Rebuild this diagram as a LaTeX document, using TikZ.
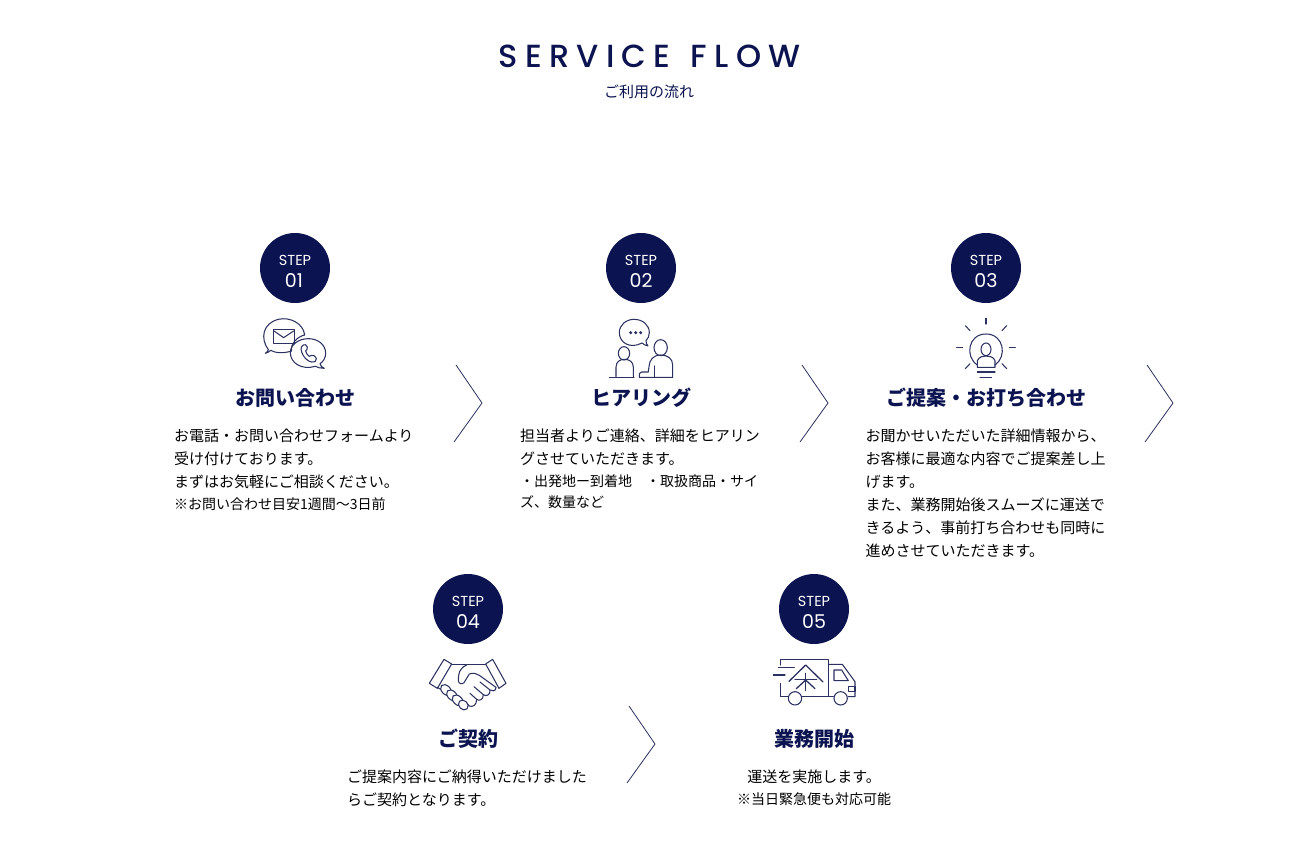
\documentclass[tikz,border=0pt]{standalone}
\usepackage{fontspec}
\setmainfont{Noto Sans CJK JP}
\newfontfamily\latinfont{Poppins}
\newfontfamily\titlefont[LetterSpace=22.5]{Poppins Medium}
\definecolor{navy}{HTML}{0B1350}
\definecolor{inkline}{HTML}{2B3160}
\usetikzlibrary{positioning}

\begin{document}
\begin{tikzpicture}[x=1pt,y=-1pt]
\tikzstyle{stepdot}=[circle,fill=navy,inner sep=0pt,minimum size=70pt]
\tikzstyle{steptext}=[text=white,inner sep=0pt,font=\latinfont\fontsize{14.5}{15}\selectfont]
\tikzstyle{stepnum}=[text=white,inner sep=0pt,font=\latinfont\fontsize{19}{20}\selectfont]
\tikzstyle{heading}=[text=navy,inner sep=0pt,font=\bfseries\fontsize{20}{24}\selectfont]
\tikzstyle{bodytext}=[text=black,inner sep=0pt,anchor=north west,align=left,font=\fontsize{15}{23}\selectfont]
\tikzstyle{chevron}=[draw=inkline,line width=.8pt,line join=miter]
\tikzstyle{icon}=[draw=inkline,line width=1.05pt,line join=round,line cap=round]
\useasboundingbox (0,0) rectangle (1311,851);

%title
\node[text=navy,inner sep=0pt,font=\titlefont\fontsize{32}{32}\selectfont] (title) at (649.5,56) {SERVICE{\hspace{5pt}} FLOW};
\node[text=navy,inner sep=0pt,font=\fontsize{15}{18}\selectfont] (subtitle) at (649,92) {ご利用の流れ};

%step circles
\node[stepdot] (step1) at (295,268) {};
\node[stepdot] (step2) at (641,268) {};
\node[stepdot] (step3) at (986,268) {};
\node[stepdot] (step4) at (468,609) {};
\node[stepdot] (step5) at (814,609) {};
\node[steptext] (steplabel1) at (295,260) {STEP};
\node[steptext] (steplabel2) at (641,260) {STEP};
\node[steptext] (steplabel3) at (986,260) {STEP};
\node[steptext] (steplabel4) at (468,601) {STEP};
\node[steptext] (steplabel5) at (814,601) {STEP};
\node[stepnum] (stepnum1) at (294,281) {01};
\node[stepnum] (stepnum2) at (641,281) {02};
\node[stepnum] (stepnum3) at (986,281) {03};
\node[stepnum] (stepnum4) at (468,622) {04};
\node[stepnum] (stepnum5) at (814,622) {05};

%headings
\node[heading] (head1) at (295,398) {お問い合わせ};
\node[heading] (head2) at (641,398) {ヒアリング};
\node[heading] (head3) at (986,398) {ご提案・お打ち合わせ};
\node[heading] (head4) at (468,739) {ご契約};
\node[heading] (head5) at (814,739) {業務開始};

%body text
\node[bodytext] (body1) at (174,429) {お電話・お問い合わせフォームより\\受け付けております。\\まずはお気軽にご相談ください。\\[-1pt]{\fontsize{14}{21}\selectfont ※お問い合わせ目安1週間〜3日前}};
\node[bodytext] (body2) at (520,429) {担当者よりご連絡、詳細をヒアリン\\グさせていただきます。\\[-1pt]{\fontsize{14}{21}\selectfont ・出発地ー到着地　・取扱商品・サイ}\\[-2pt]{\fontsize{14}{21}\selectfont ズ、数量など}};
\node[bodytext] (body3) at (865.5,429) {お聞かせいただいた詳細情報から、\\お客様に最適な内容でご提案差し上\\げます。\\また、業務開始後スムーズに運送で\\きるよう、事前打ち合わせも同時に\\進めさせていただきます。};
\node[bodytext] (body4) at (347,770) {ご提案内容にご納得いただけました\\らご契約となります。};
\node[bodytext,anchor=north,align=center] (body5) at (814,770) {運送を実施します。\\[-1pt]{\fontsize{14}{21}\selectfont ※当日緊急便も対応可能}};

%chevrons between the steps
\coordinate (c1a) at (456,365); \coordinate (c1b) at (482,403); \coordinate (c1c) at (454,442);
\coordinate (c2a) at (802,365); \coordinate (c2b) at (828,403); \coordinate (c2c) at (800,442);
\coordinate (c3a) at (1147,365); \coordinate (c3b) at (1173,403); \coordinate (c3c) at (1145,442);
\coordinate (c4a) at (629,706); \coordinate (c4b) at (655,744); \coordinate (c4c) at (627,783);
\draw[chevron] (c1a) -- (c1b) -- (c1c);
\draw[chevron] (c2a) -- (c2b) -- (c2c);
\draw[chevron] (c3a) -- (c3b) -- (c3c);
\draw[chevron] (c4a) -- (c4b) -- (c4c);

%icon 1, mail and phone
\begin{scope}[shift={(240,225)},x=.3333pt,y=-.3333pt]
\draw[icon] (85,374) .. controls (60,340) and (68,295) .. (115,283) .. controls (150,275) and (190,295) .. (194,330) .. controls (170,335) and (150,360) .. (155,378) .. controls (130,386) and (105,384) .. (92,376) .. controls (88,380) and (82,384) .. (76,385) .. controls (81,382) and (84,378) .. (85,374);
\draw[icon] (100,314) rectangle (163,355);
\draw[icon] (102,318) -- (131,338) -- (161,318);
\draw[icon] (151,383) .. controls (151,360) and (175,341) .. (205,341) .. controls (235,341) and (257,360) .. (257,385) .. controls (257,398) and (250,410) .. (240,416) .. controls (241,422) and (246,428) .. (253,430) .. controls (243,431) and (233,427) .. (226,424) .. controls (185,436) and (151,414) .. (151,383);
\draw[icon] (190,360) .. controls (180,365) and (182,378) .. (190,392) .. controls (198,405) and (212,415) .. (225,410) .. controls (232,405) and (230,398) .. (222,392) .. controls (215,388) and (212,394) .. (208,394) .. controls (203,392) and (198,384) .. (197,378) .. controls (199,374) and (204,372) .. (202,366) .. controls (199,358) and (195,358) .. (190,360);
\end{scope}

%icon 2, two people talking
\begin{scope}[shift={(590,310)},x=.3333pt,y=-.3333pt]
\draw[icon] (88,68) .. controls (88,45) and (108,28) .. (132,28) .. controls (158,28) and (178,45) .. (178,68) .. controls (178,78) and (174,86) .. (168,92) .. controls (168,98) and (170,104) .. (174,108) .. controls (166,107) and (160,102) .. (156,99) .. controls (120,118) and (88,98) .. (88,68);
\fill[inkline] (122,68) circle (5);
\fill[inkline] (137,68) circle (5);
\fill[inkline] (152,68) circle (5);
\draw[icon] (102,130) ellipse (17 and 20);
\draw[icon] (78,200) -- (78,172) .. controls (78,155) and (90,148) .. (103,148) .. controls (118,148) and (130,155) .. (130,172) -- (130,200);
\draw[icon] (58,202) -- (132,202);
\draw[icon] (212,113) ellipse (20 and 24);
\draw[icon] (248,200) -- (248,165) .. controls (248,145) and (232,135) .. (212,135) .. controls (190,135) and (178,150) .. (177,170) -- (175,186) -- (155,186) .. controls (148,186) and (148,192) .. (148,202) -- (248,202);
\draw[icon] (193,168) -- (193,200);
\end{scope}

%icon 3, bulb with person
\begin{scope}[shift={(940,310)},x=.3333pt,y=-.3333pt]
\draw[icon] (112,165) .. controls (74,140) and (84,72) .. (138,72) .. controls (192,72) and (202,140) .. (165,165);
\draw[icon] (138,118) ellipse (15 and 19);
\draw[icon] (112,172) -- (112,152) .. controls (118,140) and (128,138) .. (138,138) .. controls (148,138) and (160,140) .. (165,152) -- (165,172) -- cycle;
\draw[icon] (112,186) -- (165,186);
\draw[icon] (120,203) -- (155,203);
\draw[icon] (138,25) -- (138,42);
\draw[icon] (76,47) -- (90,62);
\draw[icon] (200,47) -- (186,62);
\draw[icon] (50,113) -- (68,113);
\draw[icon] (208,113) -- (226,113);
\draw[icon] (76,176) -- (90,161);
\draw[icon] (200,176) -- (186,161);
\end{scope}

%icon 4, handshake
\begin{scope}[shift={(420,650)},x=.3333pt,y=-.3333pt]
\draw[icon] (72,28) -- (95,42) -- (52,115) -- (28,100) -- cycle;
\draw[icon] (218,28) -- (197,42) -- (237,115) -- (258,100) -- cycle;
\draw[icon] (95,43) -- (197,43);
\draw[icon] (140,45) .. controls (118,55) and (115,70) .. (115,92) .. controls (116,102) and (126,104) .. (132,98) -- (148,72) .. controls (160,68) and (170,70) .. (178,76) -- (228,112);
\draw[icon] (228,112) .. controls (228,125) and (216,124) .. (210,120) -- (180,96);
\draw[icon] (210,120) .. controls (212,136) and (198,140) .. (190,134) -- (162,110);
\draw[icon] (190,134) .. controls (190,150) and (178,154) .. (170,148) -- (150,130);
\draw[icon] (170,148) .. controls (170,166) and (158,172) .. (148,168) -- (140,160);
\draw[icon] (52,112) -- (62,118);
\draw[icon,fill=white,rotate around={-45:(78,120)}] (78,120) ellipse (19 and 13);
\draw[icon,fill=white,rotate around={-45:(96,136)}] (96,136) ellipse (19 and 13);
\draw[icon,fill=white,rotate around={-45:(113,151)}] (113,151) ellipse (19 and 13);
\draw[icon,fill=white,rotate around={-45:(130,165)}] (130,165) ellipse (16 and 13);
\end{scope}

%icon 5, truck
\begin{scope}[shift={(765,650)},x=.3333pt,y=-.3333pt]
\draw[icon] (47,45) -- (47,28) -- (190,28) -- (190,140);
\draw[icon] (47,100) -- (47,140) -- (68,140);
\draw[icon] (40,52) -- (88,52);
\draw[icon] (25,75) -- (60,75);
\draw[icon] (110,140) -- (205,140);
\draw[icon] (90,145) circle (20);
\draw[icon] (227,145) circle (20);
\draw[icon] (190,43) -- (232,43) -- (270,95) -- (270,140) -- (250,140);
\draw[icon] (207,60) -- (230,60) -- (250,92) -- (207,92) -- cycle;
\draw[icon] (250,110) -- (270,110) -- (270,125) -- (250,125) -- cycle;
\draw[icon,line width=1.3pt] (72,94) -- (122,45) -- (174,96);
\draw[icon,line width=1.3pt] (90,88) -- (155,88);
\draw[icon,line width=1.3pt] (122,70) -- (122,122);
\draw[icon,line width=1.3pt] (122,90) -- (94,116);
\draw[icon,line width=1.3pt] (122,90) -- (150,116);
\end{scope}
\end{tikzpicture}
\end{document}
